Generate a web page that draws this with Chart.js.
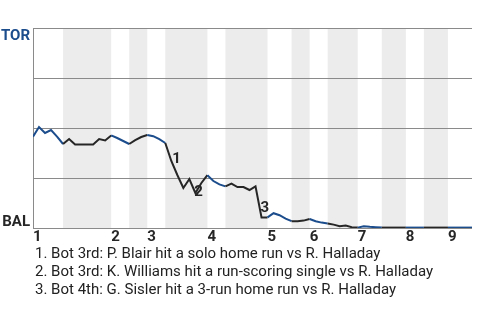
<!DOCTYPE html>
<html>
<head>
<meta charset="utf-8">
<script src="https://cdn.jsdelivr.net/npm/chart.js@4.4.1/dist/chart.umd.min.js"></script>
<style>
  html, body { margin: 0; padding: 0; background: #fff; }
  #wrap { position: relative; width: 480px; height: 320px; overflow: hidden; }
  #c { position: absolute; left: 0; top: 0; }
  #notes { position: absolute; left: 35px; top: 244px; font-family: Roboto, "Noto Sans", sans-serif; font-size: 15px; line-height: 18px; color: #222; white-space: nowrap; }
</style>
</head>
<body>
<div id="wrap">
  <canvas id="c" width="480" height="320"></canvas>
  <div id="notes"></div>
</div>
<script>
// TOR win probability after each plate appearance (0 = BAL wins, 1 = TOR wins)
const winProb = [
  0.457, 0.505, 0.475, 0.49, 0.457, 0.42, 0.445, 0.417, 0.417, 0.417,
  0.417, 0.445, 0.438, 0.463, 0.45, 0.435, 0.42, 0.439, 0.455, 0.465,
  0.459, 0.444, 0.425, 0.335, 0.265, 0.2, 0.245, 0.175, 0.225, 0.264,
  0.235, 0.218, 0.208, 0.222, 0.205, 0.205, 0.19, 0.208, 0.053, 0.053,
  0.074, 0.064, 0.047, 0.034, 0.034, 0.037, 0.045, 0.034, 0.027, 0.023,
  0.017, 0.009, 0.012, 0.004, 0.002, 0.009, 0.006, 0.004, 0.002, 0.002,
  0.002, 0.002, 0.002, 0.002, 0.002, 0.002, 0.002, 0.002, 0.002, 0.002,
  0.002, 0.002, 0.002, 0.002
];
// index where each inning begins (top half)
const inningStarts = [0, 13, 19, 29, 39, 46, 54, 62, 69];
const inningLabels = ["1", "2", "3", "4", "5", "6", "7", "8", "9"];
// bottom halves (BAL batting): [start index, end index]
const bottomHalves = [[5, 13], [16, 19], [22, 29], [32, 39], [43, 46], [49, 54], [58, 62], [65, 69]];
// key events: plate-appearance index and description
const eventIndex = [23, 27, 38];
const eventText = [
  "Bot 3rd: P. Blair hit a solo home run vs R. Halladay",
  "Bot 3rd: K. Williams hit a run-scoring single vs R. Halladay",
  "Bot 4th: G. Sisler hit a 3-run home run vs R. Halladay"
];
const teamTop = "TOR";
const teamBottom = "BAL";

const BLUE = '#1b4c8c';
const BLACK = '#262626';
const GRID = '#8a8a8a';
const BAND = '#ececec';
const FONT = 'Roboto, "Noto Sans", sans-serif';

document.getElementById('notes').innerHTML =
  eventText.map((t, i) => '<div>' + (i + 1) + '. ' + t + '</div>').join('');

function isBottom(i) {
  return bottomHalves.some(r => i >= r[0] && i < r[1]);
}

const bandPlugin = {
  id: 'bands',
  beforeDraw(chart) {
    const { ctx, chartArea, scales } = chart;
    ctx.save();
    ctx.fillStyle = BAND;
    bottomHalves.forEach(r => {
      const x0 = scales.x.getPixelForValue(r[0]);
      const x1 = scales.x.getPixelForValue(r[1]);
      ctx.fillRect(x0, chartArea.top, x1 - x0, chartArea.bottom - chartArea.top);
    });
    ctx.restore();
  }
};

const labelPlugin = {
  id: 'labels',
  afterDatasetsDraw(chart, args, opts) {
    const { ctx, chartArea, scales } = chart;
    ctx.save();
    ctx.font = 'bold 15px ' + FONT;
    ctx.textBaseline = 'middle';
    ctx.textAlign = 'left';
    ctx.fillStyle = BLACK;
    eventIndex.forEach((idx, k) => {
      const px = scales.x.getPixelForValue(idx);
      const py = scales.y.getPixelForValue(winProb[idx]);
      const off = opts.offsets[k];
      ctx.fillText(String(k + 1), px + off[0], py + off[1]);
    });
    // team labels on the y axis
    ctx.textAlign = 'right';
    ctx.textBaseline = 'alphabetic';
    ctx.fillStyle = BLUE;
    ctx.fillText(teamTop, chartArea.left - 3, scales.y.getPixelForValue(1) + 11.5);
    ctx.fillStyle = BLACK;
    ctx.fillText(teamBottom, chartArea.left - 3, scales.y.getPixelForValue(0) - 2.5);
    ctx.restore();
  }
};

new Chart(document.getElementById('c'), {
  type: 'line',
  data: {
    datasets: [{
      data: winProb.map((v, i) => ({ x: i, y: v })),
      borderWidth: 2,
      pointRadius: 0,
      pointHoverRadius: 0,
      tension: 0,
      fill: false,
      borderColor: BLUE,
      segment: {
        borderColor: c => isBottom(c.p0DataIndex) ? BLACK : BLUE
      }
    }]
  },
  options: {
    responsive: false,
    animation: false,
    events: [],
    layout: { padding: { left: 33, right: 8, top: 28, bottom: 74 } },
    plugins: {
      legend: { display: false },
      tooltip: { enabled: false },
      labels: { offsets: [[1, -2], [-1, -1], [-1, -9]] }
    },
    scales: {
      x: {
        type: 'linear',
        min: 0,
        max: winProb.length - 1,
        afterBuildTicks: s => { s.ticks = inningStarts.map(v => ({ value: v })); },
        grid: { display: false, drawTicks: false },
        border: { display: false },
        ticks: {
          autoSkip: false,
          maxRotation: 0,
          align: 'start',
          padding: 0,
          color: BLACK,
          font: { family: FONT, size: 15, weight: 'bold' },
          callback: (v, i) => inningLabels[i]
        }
      },
      y: {
        min: 0,
        max: 1,
        ticks: { display: false, stepSize: 0.25 },
        grid: { color: GRID, lineWidth: 1, drawTicks: false },
        border: { display: true, color: GRID, width: 1 }
      }
    }
  },
  plugins: [bandPlugin, labelPlugin]
});
</script>
</body>
</html>
